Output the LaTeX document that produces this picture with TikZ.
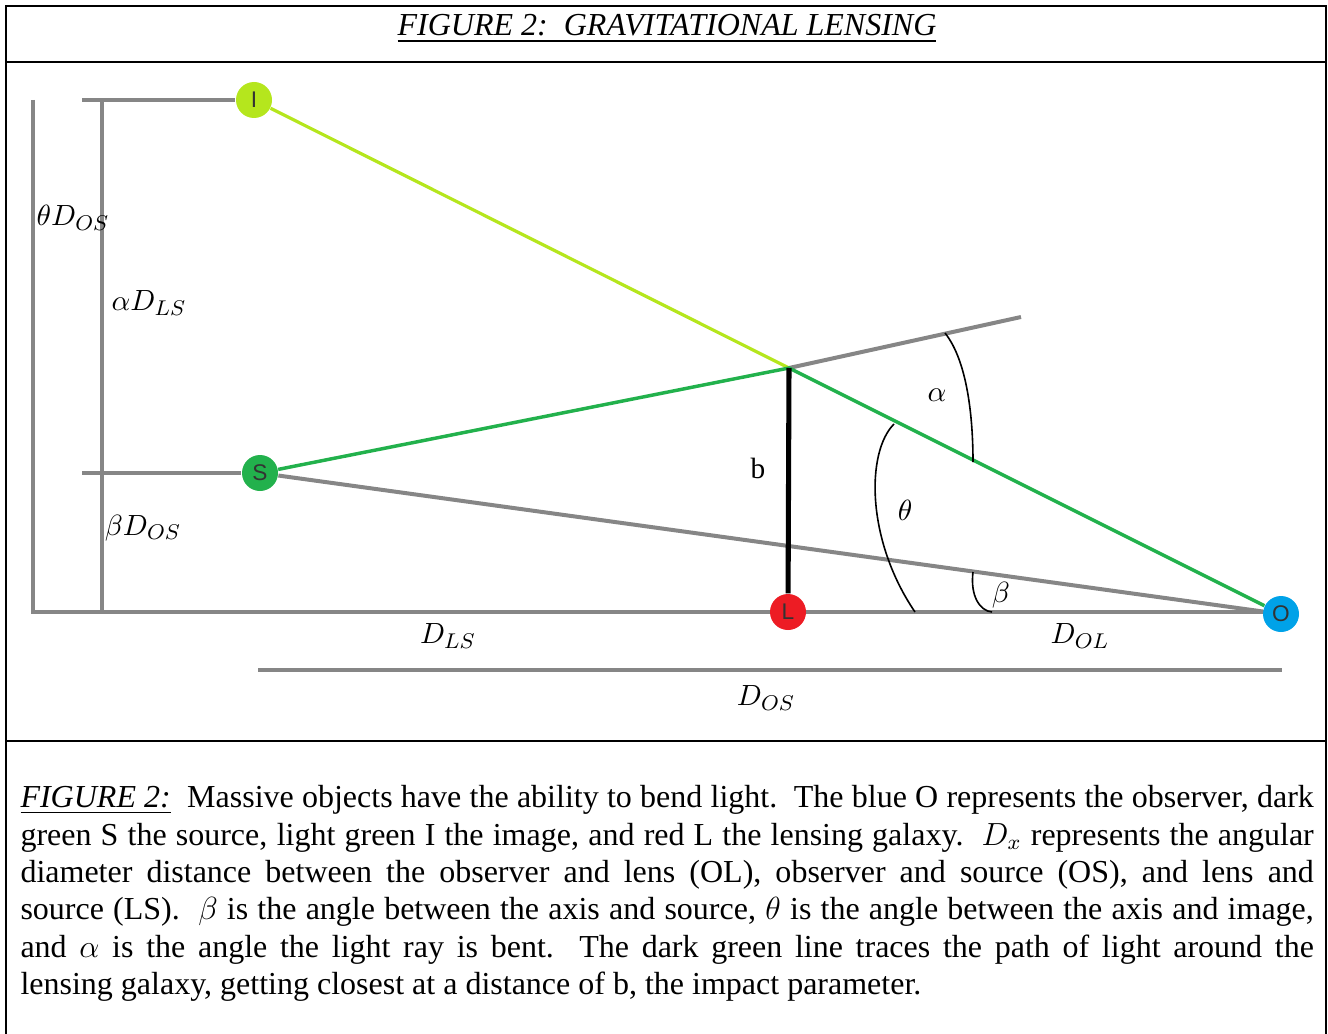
\documentclass[tikz,border=0pt]{standalone}
\usepackage{amsmath,amssymb}
\usepackage{fontspec}
\setmainfont{Liberation Serif}
\setsansfont{Liberation Sans}
\usetikzlibrary{positioning,calc,backgrounds}
\usepackage{xcolor}
\definecolor{imageLime}{HTML}{B5E61D}
\definecolor{sourceGreen}{HTML}{22B14C}
\definecolor{lensRed}{HTML}{ED1C24}
\definecolor{observerBlue}{HTML}{00A2E8}
\definecolor{axisGray}{HTML}{868686}

\begin{document}
\begin{tikzpicture}[x=0.375pt, y=-0.375pt,
    frameLine/.style={draw=black, line width=0.9pt},
    guideLine/.style={draw=axisGray, line width=1.5pt},
    imageRay/.style={draw=imageLime, line width=1.2pt},
    sourceRay/.style={draw=sourceGreen, line width=1.3pt},
    impactLine/.style={draw=black, line width=1.9pt},
    angleArc/.style={draw=black, line width=0.6pt},
    bodyDot/.style={circle, minimum size=13.5pt, inner sep=0pt, text=black!80, font=\fontsize{8.5}{9}\sffamily},
    mathLabel/.style={inner sep=1pt, font=\fontsize{11}{13}\selectfont},
    titleText/.style={inner sep=0pt, font=\fontsize{12}{14}\selectfont\itshape},
    captionText/.style={inner sep=0pt, text width=485pt, align=justify, font=\fontsize{12}{14}\selectfont}
]
    \useasboundingbox (0,0) rectangle (1328,1034);

    \draw[frameLine] (6,1034) -- (6,6) -- (1326,6) -- (1326,1034);
    \draw[frameLine] (6,62) -- (1326,62);
    \draw[frameLine] (6,741) -- (1326,741);

    \node[titleText, anchor=base] (title) at (667,36) {\underline{FIGURE 2:\ \ GRAVITATIONAL LENSING}};

    \node[bodyDot, fill=imageLime]    (img) at (254,100)  {I};
    \node[bodyDot, fill=sourceGreen]  (src) at (260,473)  {S};
    \node[bodyDot, fill=lensRed]      (lns) at (788,612)  {L};
    \node[bodyDot, fill=observerBlue] (obs) at (1281,614) {O};

    \coordinate (bend)      at (789,368);
    \coordinate (rayTip)    at (1021,317);
    \coordinate (axisTop)   at (33,100);
    \coordinate (axisLeft)  at (33,612);
    \coordinate (axisRight) at (1281,612);
    \coordinate (imgTop)    at (102,100);
    \coordinate (imgFoot)   at (102,612);
    \coordinate (imgStub)   at (82,100);
    \coordinate (srcStub)   at (82,473);
    \coordinate (dosLeft)   at (258,670);
    \coordinate (dosRight)  at (1282,670);

    \begin{pgfonlayer}{background}
    \draw[guideLine] (axisTop) -- (axisLeft) -- (axisRight);
    \draw[guideLine] (imgTop) -- (imgFoot);
    \draw[guideLine] (imgStub) -- (img);
    \draw[guideLine] (srcStub) -- (src);
    \draw[guideLine] (dosLeft) -- (dosRight);
    \draw[guideLine] (src) -- (obs);
    \draw[guideLine] (bend) -- (rayTip);

    \draw[imageRay]   (img) -- (bend);
    \draw[sourceRay]  (src) -- (bend) -- (obs);
    \draw[impactLine] (bend) -- (lns);
    \end{pgfonlayer}

    \draw[angleArc] (945,333) .. controls (968,362) and (973,420) .. (973,462);
    \draw[angleArc] (894,424) .. controls (866,452) and (866,540) .. (915,612);
    \draw[angleArc] (973,572) .. controls (970,596) and (980,611) .. (992,612);

    \node[mathLabel] (thetaDos) at (73,218)  {$\theta D_{OS}$};
    \node[mathLabel] (alphaDls) at (149,303) {$\alpha D_{LS}$};
    \node[mathLabel] (betaDos)  at (143,528) {$\beta D_{OS}$};
    \node[mathLabel] (dLS)      at (448,636) {$D_{LS}$};
    \node[mathLabel] (dOL)      at (1080,636) {$D_{OL}$};
    \node[mathLabel] (dOS)      at (766,698) {$D_{OS}$};
    \node[mathLabel] (bLabel)   at (758,468) {b};
    \node[mathLabel] (alphaLbl) at (937,395) {$\alpha$};
    \node[mathLabel] (thetaLbl) at (905,510) {$\theta$};
    \node[mathLabel] (betaLbl)  at (1001,595) {$\beta$};

    \node[captionText, anchor=north west] (caption) at (20,781) {\strut\underline{\textit{FIGURE 2:}}\ \ Massive objects have the ability to bend light.\ \ The blue O represents the observer, dark\linebreak
    green S the source, light green I the image, and red L the lensing galaxy.\ \ $D_x$ represents the angular\linebreak
    diameter distance between the observer and lens (OL), observer and source (OS), and lens and\linebreak
    source (LS).\ \ $\beta$ is the angle between the axis and source, $\theta$ is the angle between the axis and image,\linebreak
    and $\alpha$ is the angle the light ray is bent.\ \ The dark green line traces the path of light around the\linebreak
    lensing galaxy, getting closest at a distance of b, the impact parameter.};
\end{tikzpicture}
\end{document}
